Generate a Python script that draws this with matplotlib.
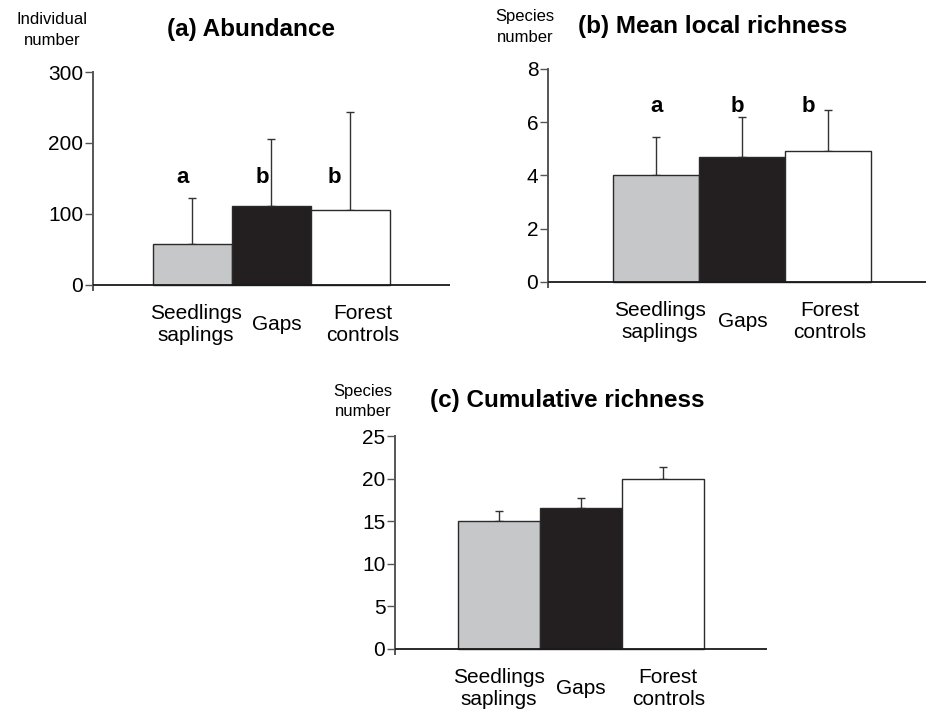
import numpy as np
import matplotlib
matplotlib.use('Agg')
import matplotlib.pyplot as plt

plt.rcParams['font.family'] = ['Liberation Sans', 'DejaVu Sans']

# data
groups = ['Seedlings\nsaplings', 'Gaps', 'Forest\ncontrols']
abundance = [58, 111, 106]
abundance_err = [64, 94, 138]
abundance_letters = ['a', 'b', 'b']
local_rich = [4.0, 4.7, 4.9]
local_rich_err = [1.45, 1.5, 1.55]
local_letters = ['a', 'b', 'b']
cum_rich = [15.0, 16.5, 19.9]
cum_rich_err = [1.2, 1.2, 1.5]

bar_colors = ['#c6c7c9', '#231f20', '#ffffff']


def panel(ax, vals, errs, ymax, ystep, title, ylab, title_y, lab_xy, title_x,
          letters=None, letter_y=None, letter_dx=None, label_dx=None):
    x = np.arange(1, len(vals) + 1)
    ax.bar(x, vals, width=1.0, color=bar_colors, edgecolor='#2a2a2a', linewidth=1.0, zorder=2)
    ax.errorbar(x, vals, yerr=[np.zeros(len(errs)), errs], fmt='none', ecolor='#333333',
                elinewidth=1.0, capsize=3, capthick=1.0, zorder=1)
    ax.set_xlim(0.5 - 0.76, len(vals) + 0.5 + 0.76)
    ax.set_ylim(-ymax * 0.025, ymax)
    ax.set_yticks(np.arange(0, ymax + 0.01, ystep))
    ax.set_xticks([])
    for s in ['top', 'right', 'bottom']:
        ax.spines[s].set_visible(False)
    ax.spines['left'].set_color('#555555')
    ax.spines['left'].set_linewidth(1.4)
    ax.spines['left'].set_bounds(-ymax * 0.025, ymax)
    ax.axhline(0, color='#1a1a1a', lw=1.3, zorder=3)
    ax.tick_params(axis='y', direction='out', length=6, width=1.0, color='#555555',
                   labelsize=15, pad=1)
    ax.patch.set_alpha(0)
    if label_dx is None:
        label_dx = [0, 0, 0]
    for xi, g, dx in zip(x, groups, label_dx):
        ax.text(xi + dx, -0.16, g, transform=ax.get_xaxis_transform(), ha='center',
                va='center', fontsize=15, linespacing=1.2)
    if letters is not None:
        for xi, l, dx in zip(x, letters, letter_dx):
            ax.text(xi + dx, letter_y, l, ha='center', va='center', fontsize=16,
                    fontweight='bold')
    ax.text(title_x, title_y, title, transform=ax.transAxes, ha='center', va='center',
            fontsize=17.5, fontweight='bold')
    ax.text(lab_xy[0], lab_xy[1], ylab, transform=ax.transAxes, ha='center', va='center',
            fontsize=12, linespacing=1.45)


fig = plt.figure(figsize=(9.26, 7.15), dpi=100)
ax1 = fig.add_axes([0.1004, 0.5944, 0.3855, 0.3049])
ax2 = fig.add_axes([0.5918, 0.5986, 0.419, 0.3049])
ax3 = fig.add_axes([0.4266, 0.0853, 0.4017, 0.3049])

panel(ax1, abundance, abundance_err, 300, 100, '(a) Abundance', 'Individual\nnumber',
      1.193, (-0.115, 1.193), 0.443, letters=abundance_letters, letter_y=151,
      letter_dx=[-0.12, -0.11, -0.2], label_dx=[0.04, 0.07, 0.16])
panel(ax2, local_rich, local_rich_err, 8, 2, '(b) Mean local richness', 'Species\nnumber',
      1.193, (-0.059, 1.193), 0.425, letters=local_letters, letter_y=6.6,
      letter_dx=[0.0, -0.06, -0.23], label_dx=[0.04, 0.01, 0.02])
panel(ax3, cum_rich, cum_rich_err, 25, 5, '(c) Cumulative richness', 'Species\nnumber',
      1.165, (-0.086, 1.158), 0.462, label_dx=[0.0, 0.0, 0.06])

fig.savefig('out.png', dpi=100)
